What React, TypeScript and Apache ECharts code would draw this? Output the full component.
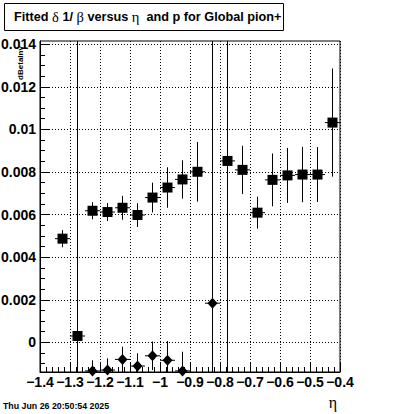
import React, { useEffect, useRef } from "react";
import * as echarts from "echarts";

// ---- data ----
const BIN_HALF_WIDTH = 0.025;

const squareEta = [-1.325, -1.275, -1.225, -1.175, -1.125, -1.075, -1.025, -0.975, -0.925, -0.875, -0.775, -0.725, -0.675, -0.625, -0.575, -0.525, -0.475, -0.425];
const squareVal = [0.00487, 0.0003, 0.00618, 0.00612, 0.00632, 0.00598, 0.0068, 0.00727, 0.00765, 0.00801, 0.00852, 0.0081, 0.00609, 0.00763, 0.00784, 0.00788, 0.00788, 0.01032];
const squareErr = [0.0004, 0.05, 0.0004, 0.00042, 0.00056, 0.00056, 0.0007, 0.00095, 0.0009, 0.0014, 0.05, 0.00113, 0.00075, 0.00124, 0.00129, 0.0013, 0.00129, 0.00254];

const diamondEta = [-1.225, -1.175, -1.125, -1.075, -1.025, -0.975, -0.925, -0.825];
const diamondVal = [-0.00134, -0.0013, -0.0008, -0.00111, -0.00063, -0.00084, -0.00134, 0.00184];
const diamondErr = [0.0005, 0.00055, 0.0006, 0.0006, 0.00067, 0.0009, 0.0009, 0.05];

const X_MIN = -1.4;
const X_MAX = -0.4;
const X_INTERVAL = 0.1;
const Y_MIN = -0.00139;
const Y_MAX = 0.01415;
const yMajorTicks = [0, 0.002, 0.004, 0.006, 0.008, 0.01, 0.012, 0.014];
const yMinorTicks: number[] = [];
for (let i = -2; i <= 28; i++) yMinorTicks.push(+(i * 0.0005).toFixed(4));

const TITLE_PARTS = ["Fitted ", "δ", " 1/ ", "β", " versus ", "η", "  and p for Global pion+"];
const DATE_TEXT = "Thu Jun 26 20:50:54 2025";
const X_TITLE = "η";
const Y_TITLE = "dBetaInv";

const SANS = "'Liberation Sans', Arial, Helvetica, sans-serif";
const SERIF = "'Liberation Serif', 'Times New Roman', serif";

function errRender(params: any, api: any) {
  const x = api.value(0);
  const y = api.value(1);
  const e = api.value(2);
  const c = api.coord([x, y]);
  const hi = api.coord([x, y + e]);
  const lo = api.coord([x, y - e]);
  const l = api.coord([x - BIN_HALF_WIDTH, y]);
  const r = api.coord([x + BIN_HALF_WIDTH, y]);
  const cs = params.coordSys;
  const top = cs.y;
  const bot = cs.y + cs.height;
  const clamp = (v: number) => Math.max(top, Math.min(bot, v));
  const st = { stroke: "#000", lineWidth: 1 };
  return {
    type: "group",
    children: [
      { type: "line", shape: { x1: c[0], y1: clamp(hi[1]), x2: c[0], y2: clamp(lo[1]) }, style: st },
      { type: "line", shape: { x1: l[0], y1: c[1], x2: r[0], y2: c[1] }, style: st },
    ],
  };
}

export default function App() {
  const ref = useRef<HTMLDivElement>(null);
  useEffect(() => {
    if (!ref.current) return;
    const chart = echarts.init(ref.current, null, { renderer: "svg" });

    const sqData = squareEta.map((x, i) => [x, squareVal[i], squareErr[i]]);
    const diData = diamondEta.map((x, i) => [x, diamondVal[i], diamondErr[i]]);

    const richTitle: any = {
      b: { fontFamily: SANS, fontWeight: "bold", fontSize: 12.7, fill: "#000" },
      g: { fontFamily: SERIF, fontWeight: "normal", fontSize: 14.5, fill: "#000" },
    };
    const titleText = TITLE_PARTS.map((p, i) => (i % 2 === 1 ? `{g|${p}}` : `{b|${p}}`)).join("");

    const fmtX = (v: number) => {
      const s = parseFloat(v.toFixed(1)).toString();
      return s.replace("-", "\u2212");
    };
    const fmtY = (v: number) => parseFloat(v.toFixed(4)).toString();

    chart.setOption({
      animation: false,
      backgroundColor: "#fff",
      grid: {
        left: 40,
        top: 41,
        width: 300,
        height: 331,
        show: true,
        borderColor: "#000",
        borderWidth: 1,
        backgroundColor: "transparent",
        containLabel: false,
        outerBoundsMode: "none",
      },
      xAxis: {
        type: "value",
        min: X_MIN,
        max: X_MAX,
        interval: X_INTERVAL,
        axisLine: { show: true, onZero: false, lineStyle: { color: "#000", width: 1 } },
        axisTick: { show: true, inside: true, length: 9, lineStyle: { color: "#000", width: 1 } },
        minorTick: { show: true, splitNumber: 5, length: 5, lineStyle: { color: "#000", width: 1 } },
        axisLabel: {
          show: true,
          formatter: fmtX,
          color: "#000",
          fontFamily: SANS,
          fontWeight: "bold",
          fontSize: 14,
          margin: 3,
          showMinLabel: true,
          showMaxLabel: true,
          hideOverlap: false,
        },
        splitLine: { show: true, lineStyle: { color: "#000", width: 1, type: [1, 2] } },
      },
      yAxis: [
        {
          type: "value",
          min: Y_MIN,
          max: Y_MAX,
          position: "left",
          axisLine: { show: true, onZero: false, lineStyle: { color: "#000", width: 1 } },
          axisTick: { show: true, inside: true, length: 9, customValues: yMajorTicks, lineStyle: { color: "#000", width: 1 } },
          axisLabel: {
            show: true,
            customValues: yMajorTicks,
            formatter: fmtY,
            color: "#000",
            fontFamily: SANS,
            fontWeight: "bold",
            fontSize: 14,
            margin: 4,
            hideOverlap: false,
          },
          splitLine: { show: true, lineStyle: { color: "#000", width: 1, type: [1, 2] } },
        },
        {
          type: "value",
          min: Y_MIN,
          max: Y_MAX,
          position: "left",
          offset: 0,
          axisLine: { show: false },
          axisTick: { show: true, inside: true, length: 5, customValues: yMinorTicks, lineStyle: { color: "#000", width: 1 } },
          axisLabel: { show: false },
          splitLine: { show: false },
        },
      ],
      series: [
        {
          type: "custom",
          name: "sqErr",
          renderItem: errRender,
          data: sqData,
          encode: { x: 0, y: 1 },
          z: 3,
          silent: true,
        },
        {
          type: "custom",
          name: "diErr",
          renderItem: errRender,
          data: diData,
          encode: { x: 0, y: 1 },
          z: 3,
          silent: true,
        },
        {
          type: "scatter",
          name: "squares",
          data: sqData.map((d) => [d[0], d[1]]),
          symbol: "rect",
          symbolSize: 10,
          itemStyle: { color: "#000", opacity: 1 },
          clip: false,
          z: 4,
          silent: true,
        },
        {
          type: "scatter",
          name: "diamonds",
          data: diData.map((d) => [d[0], d[1]]),
          symbol: "diamond",
          symbolSize: [10, 11],
          itemStyle: { color: "#000", opacity: 1 },
          clip: false,
          z: 4,
          silent: true,
        },
      ],
      graphic: [
        {
          type: "rect",
          shape: { x: 4.5, y: 3.5, width: 279, height: 27 },
          style: { fill: "#fff", stroke: "#000", lineWidth: 1 },
          z: 10,
        },
        {
          type: "text",
          x: 14,
          y: 17,
          z: 11,
          style: {
            text: titleText,
            rich: richTitle,
            verticalAlign: "middle",
            align: "left",
          },
        },
        {
          type: "text",
          x: 3,
          y: 406,
          style: {
            text: DATE_TEXT,
            fontFamily: SANS,
            fontWeight: "bold",
            fontSize: 8.8,
            fill: "#000",
            verticalAlign: "middle",
          },
        },
        {
          type: "text",
          x: 333,
          y: 402,
          style: {
            text: X_TITLE,
            fontFamily: SERIF,
            fontSize: 16,
            fill: "#000",
            align: "center",
            verticalAlign: "middle",
          },
        },
        {
          type: "text",
          x: 20,
          y: 63,
          rotation: Math.PI / 2,
          style: {
            text: Y_TITLE,
            fontFamily: SANS,
            fontWeight: "bold",
            fontSize: 8,
            fill: "#000",
            align: "center",
            verticalAlign: "middle",
          },
        },
      ],
    });
    return () => chart.dispose();
  }, []);

  return (
    <div
      ref={ref}
      style={{ position: "fixed", left: 0, top: 0, width: 400, height: 414 }}
    />
  );
}
